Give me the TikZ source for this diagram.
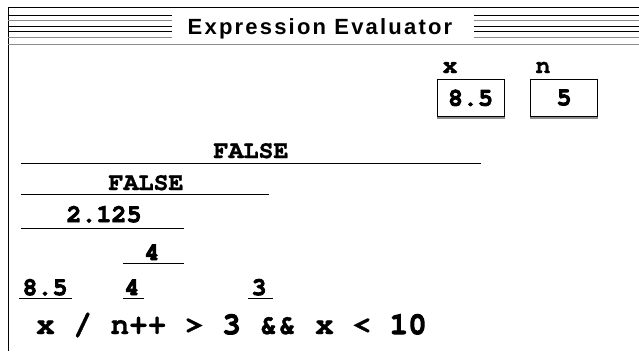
\documentclass[tikz,border=0pt]{standalone}
\usepackage[T1]{fontenc}
\usepackage{fontspec}
\setmainfont{Liberation Sans}
\newfontfamily\titlefont[LetterSpace=10]{Liberation Sans}
\newcommand\valfont{\fontencoding{T1}\fontfamily{pcr}\fontseries{b}\selectfont}
% digits of this Courier are lighter than its letters: stroke them more
\newcommand\digs[1]{\special{pdf:literal direct 1.0 w}#1\special{pdf:literal direct 0.25 w}}

\tikzset{
  heavy/.style={execute at begin node={\special{pdf:literal direct 2 Tr #1 w}},
    execute at end node={\special{pdf:literal direct 0 Tr}}},
  val/.style={font=\valfont\fontsize{25}{28}\selectfont, inner sep=0pt, anchor=base, heavy=0.25},
  num/.style={val, heavy=0.9},
  varbox/.style={draw, line width=1pt, minimum width=67pt, minimum height=37pt, inner sep=0pt,
    font=\valfont\fontsize{25}{28}\selectfont, heavy=0.9},
  rule/.style={line width=1pt},
  shadow/.style={line width=1.2pt, black!45},
}

\begin{document}
\begin{tikzpicture}[x=1pt,y=-1pt]
\path[use as bounding box] (0,0) rectangle (639,351);
% frame and title bar
\draw[rule] (8,7) -- (639,7);
\draw[rule] (8,7) -- (8,351);
\foreach \y/\c in {15/black,20.7/black!45,26/black,31.7/black,37/black!45} {
  \draw[line width=1pt,\c] (8,\y) -- (172,\y);
  \draw[line width=1pt,\c] (474,\y) -- (639,\y);
}
\draw[shadow] (8,44.3) -- (639,44.3);
\node[font=\titlefont\bfseries\fontsize{22}{26}\selectfont, inner sep=0pt, anchor=base] (title) at (320,34) {Expression Evaluator};
% variables
\node[val] (xname) at (450,73) {x};
\node[val] (nname) at (543,73) {n};
\node[varbox] (xbox) at (470.5,98) {8.5};
\node[varbox] (nbox) at (564,98) {5};
\draw[shadow] ([yshift=-1pt]xbox.south west) -- ([yshift=-1pt]xbox.south east);
\draw[shadow] ([yshift=-1pt]nbox.south west) -- ([yshift=-1pt]nbox.south east);
% evaluation steps
\node[val] (andval) at (251,158) {FALSE};
\draw[rule] (21,163) -- (481,163);
\node[val] (gtval) at (146,190) {FALSE};
\draw[rule] (21,194) -- (269,194);
\node[num] (divval) at (104,222) {2.125};
\draw[rule] (21,228) -- (184,228);
\node[num] (incval) at (152,260) {4};
\draw[rule] (123,263) -- (184,263);
\node[num] (xval) at (45,295) {8.5};
\draw[rule] (19,298) -- (72,298);
\node[num] (nval) at (132,295) {4};
\draw[rule] (123,298) -- (144,298);
\node[num] (threeval) at (259,295) {3};
\draw[rule] (248,298) -- (273,298);
% expression
\node[font=\valfont\fontsize{31}{34}\selectfont, inner sep=0pt, anchor=base west, heavy=0.25] (expr) at (36,334) {x / n++ > \digs{3} \&\& x < \digs{10}};
\end{tikzpicture}
\end{document}
